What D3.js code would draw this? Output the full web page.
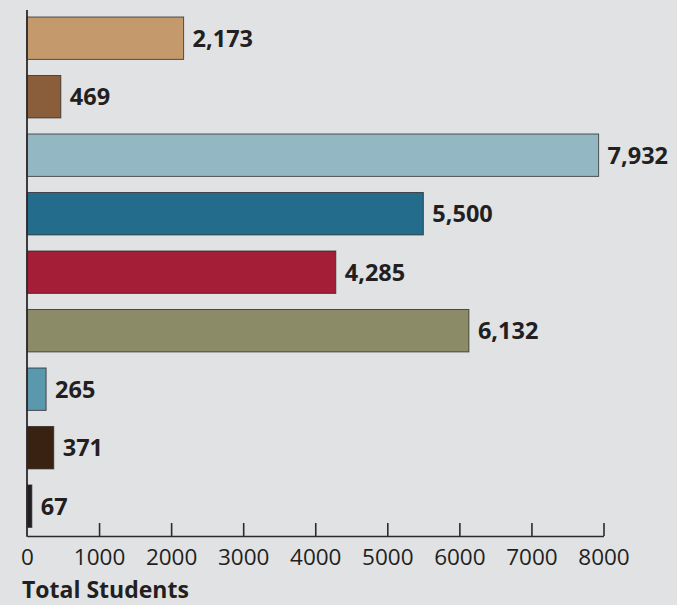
<!DOCTYPE html>
<html>
<head>
<meta charset="utf-8">
<script src="https://cdn.jsdelivr.net/npm/d3@7"></script>
<style>
  html, body { margin: 0; padding: 0; background: #e1e2e4; }
  svg { display: block; }
  text { font-family: "Open Sans", "Noto Sans", sans-serif; fill: #231f20; }
</style>
</head>
<body>
<svg id="chart" width="677" height="605"></svg>
<script>
// Enrollment groups, top to bottom
const categories = ["Group 1", "Group 2", "Group 3", "Group 4", "Group 5", "Group 6", "Group 7", "Group 8", "Group 9"];
const students = [2173, 469, 7932, 5500, 4285, 6132, 265, 371, 67];
const barColors = ["#c49a6c", "#8a5d3b", "#93b7c3", "#236c8b", "#a31e36", "#8b8b68", "#5a98ae", "#3a2213", "#231f20"];
const tickValues = [0, 1000, 2000, 3000, 4000, 5000, 6000, 7000, 8000];
const axisTitle = "Total Students";

const svg = d3.select("#chart");

const x = d3.scaleLinear().domain([0, 8000]).range([27, 603.5]);
const y = d3.scaleBand().domain(categories).range([5.3, 539.1]).paddingInner(0.275).paddingOuter(0.2);
const axisY = 536;

// Bars
svg.append("g").selectAll("rect")
  .data(categories)
  .join("rect")
  .attr("x", x(0))
  .attr("y", d => y(d))
  .attr("width", (d, i) => x(students[i]) - x(0))
  .attr("height", y.bandwidth())
  .attr("fill", (d, i) => barColors[i])
  .attr("stroke", "#2a2626")
  .attr("stroke-opacity", 0.75)
  .attr("stroke-width", 1);

// Value labels
const fmt = d3.format(",");
svg.append("g").selectAll("text")
  .data(categories)
  .join("text")
  .attr("x", (d, i) => x(students[i]) + 9)
  .attr("y", d => y(d) + y.bandwidth() / 2)
  .attr("dy", "0.36em")
  .attr("font-size", 23.5)
  .attr("font-weight", 700)
  .text((d, i) => fmt(students[i]));

// X axis: baseline with ticks pointing up
const xAxis = d3.axisBottom(x)
  .tickValues(tickValues)
  .tickSize(-13)
  .tickSizeOuter(0)
  .tickPadding(0)
  .tickFormat(d3.format("d"));

const gx = svg.append("g")
  .attr("transform", `translate(0,${axisY})`)
  .call(xAxis);
gx.select(".domain").attr("stroke", "#2e2a2b").attr("stroke-width", 1.6);
gx.selectAll(".tick line").attr("stroke", "#2e2a2b").attr("stroke-width", 1.6)
  .filter(d => d === 0).remove();
gx.selectAll(".tick text")
  .attr("y", 29)
  .attr("dy", 0)
  .attr("font-size", 22.5)
  .attr("font-family", "'Open Sans', sans-serif")
  .attr("fill", "#231f20");

// Vertical baseline
svg.append("line")
  .attr("x1", x(0)).attr("x2", x(0))
  .attr("y1", 10).attr("y2", axisY + 0.8)
  .attr("stroke", "#2e2a2b")
  .attr("stroke-width", 1.8);

// Axis title
svg.append("text")
  .attr("x", 22)
  .attr("y", 598)
  .attr("font-size", 23)
  .attr("font-weight", 700)
  .text(axisTitle);
</script>
</body>
</html>
